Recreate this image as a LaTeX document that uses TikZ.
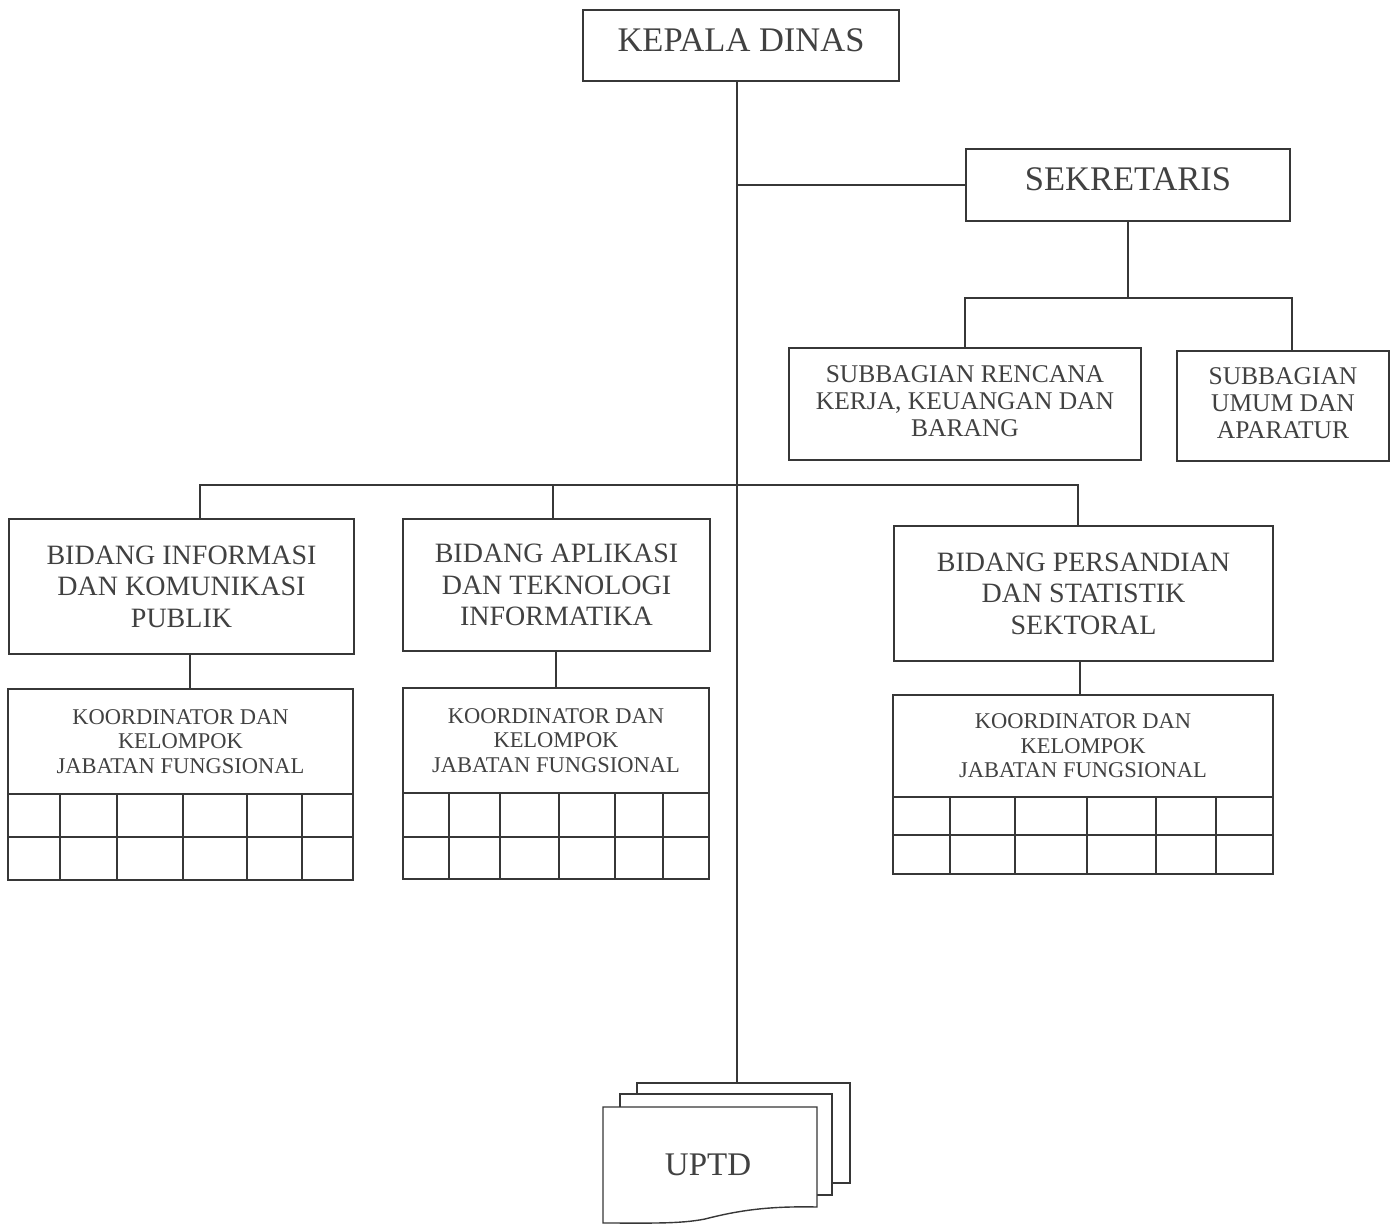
\documentclass[tikz,border=0pt]{standalone}
\usepackage{fontspec}
\setmainfont{Liberation Serif}
\definecolor{ink}{RGB}{55,55,55}
\definecolor{txt}{RGB}{65,65,65}
\begin{document}
\begin{tikzpicture}[x=1pt,y=-1pt,
  box/.style={draw=ink, line width=1.4pt, rectangle, inner sep=0pt, align=center, text=txt},
  conn/.style={draw=ink, line width=1.4pt},
  sheet/.style={draw=ink, line width=1.4pt, fill=white},
  fbig/.style={font=\fontsize{34.5}{36}\selectfont},
  fbid/.style={font=\fontsize{28}{31.5}\selectfont},
  fsub/.style={font=\fontsize{25.5}{27}\selectfont},
  fkoor/.style={font=\fontsize{22.5}{24.5}\selectfont},
  fuptd/.style={font=\fontsize{33}{34}\selectfont}]
\useasboundingbox (0,0) rectangle (1396,1225);

% main boxes
\node[box, fbig, minimum width=316pt, minimum height=71pt, text depth=11pt] (kd) at (741,45.5) {KEPALA DINAS};
\node[box, fbig, minimum width=324pt, minimum height=72pt, text depth=12pt] (sek) at (1128,185) {SEKRETARIS};
\node[box, fsub, minimum width=352pt, minimum height=112pt, text depth=6pt] (sub1) at (965,404) {SUBBAGIAN RENCANA\\KERJA, KEUANGAN DAN\\BARANG};
\node[box, fsub, minimum width=212pt, minimum height=110pt, text depth=5pt] (sub2) at (1283,406) {SUBBAGIAN\\UMUM DAN\\APARATUR};

\node[box, fbid, minimum width=345pt, minimum height=135pt] (b1) at (181.5,586.5) {BIDANG INFORMASI\\DAN KOMUNIKASI\\PUBLIK};
\node[box, fbid, minimum width=307pt, minimum height=132pt] (b2) at (556.5,585) {BIDANG APLIKASI\\DAN TEKNOLOGI\\INFORMATIKA};
\node[box, fbid, minimum width=379pt, minimum height=135pt] (b3) at (1083.5,593.5) {BIDANG PERSANDIAN\\DAN STATISTIK\\SEKTORAL};

\node[box, fkoor, minimum width=345pt, minimum height=105pt] (k1) at (180.5,741.5) {KOORDINATOR DAN\\KELOMPOK\\JABATAN FUNGSIONAL};
\node[box, fkoor, minimum width=306pt, minimum height=105pt] (k2) at (556,740.5) {KOORDINATOR DAN\\KELOMPOK\\JABATAN FUNGSIONAL};
\node[box, fkoor, minimum width=380pt, minimum height=102pt] (k3) at (1083,746) {KOORDINATOR DAN\\KELOMPOK\\JABATAN FUNGSIONAL};

% grids
\draw[conn] (8,794) rectangle (353,880) (8,837) -- (353,837);
\foreach \x in {60,117,183,247,302} \draw[conn] (\x,794) -- (\x,880);
\draw[conn] (403,793) rectangle (709,879) (403,837) -- (709,837);
\foreach \x in {449,500,559,615,663} \draw[conn] (\x,793) -- (\x,879);
\draw[conn] (893,797) rectangle (1273,874) (893,835) -- (1273,835);
\foreach \x in {950,1015,1087,1156,1216} \draw[conn] (\x,797) -- (\x,874);

% UPTD stack
\node[sheet, rectangle, inner sep=0pt, minimum width=213pt, minimum height=100pt] (uptd3) at (743.5,1133) {};
\node[sheet, rectangle, inner sep=0pt, minimum width=212pt, minimum height=101pt] (uptd2) at (726,1144.5) {};
\draw[sheet] (603,1107) -- (817,1107) -- (817,1207)
  .. controls (770,1206) and (740,1210) .. (705,1219)
  .. controls (680,1224) and (650,1223) .. (603,1223) -- cycle;
\node[text=txt, fuptd, inner sep=0pt] (uptd) at (708,1165) {UPTD};

% connectors
\coordinate (trunk) at (737,0);
\coordinate (sb) at (1128,298);
\coordinate (bb) at (737,485);
\draw[conn] (kd.south -| trunk) -- (uptd3.north -| trunk);
\draw[conn] (trunk |- sek.west) -- (sek.west);
\draw[conn] (sek.south) -- (sb);
\draw[conn] (sub1.north) |- (sb) -| ([xshift=9pt]sub2.north);
\draw[conn] ([xshift=18.5pt]b1.north) |- (bb) -| ([xshift=-5.5pt]b3.north);
\draw[conn] ([xshift=-3.5pt]b2.north) -- ([xshift=-3.5pt]b2.north |- bb);
\draw[conn] ([xshift=8.5pt]b1.south) -- ([xshift=8.5pt]b1.south |- k1.north);
\draw[conn] ([xshift=-0.5pt]b2.south) -- ([xshift=-0.5pt]b2.south |- k2.north);
\draw[conn] ([xshift=-3.5pt]b3.south) -- ([xshift=-3.5pt]b3.south |- k3.north);
\end{tikzpicture}
\end{document}
